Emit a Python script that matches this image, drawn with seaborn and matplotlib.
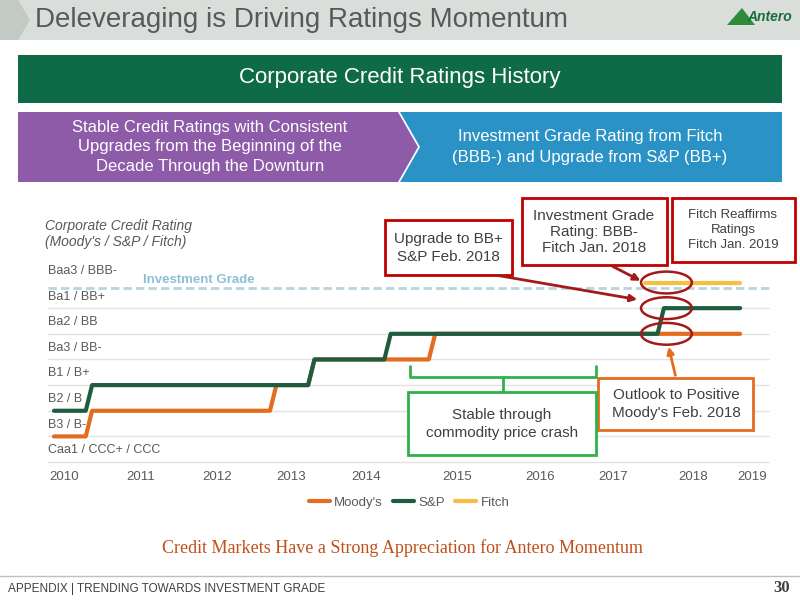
import numpy as np
import pandas as pd
import matplotlib
matplotlib.use("Agg")
import matplotlib.pyplot as plt
import seaborn as sns
from matplotlib.patches import Rectangle, Polygon, Ellipse, FancyArrowPatch

sns.set_theme(style="white")
plt.rcParams['font.family'] = ['Liberation Sans', 'DejaVu Sans']

# ---- data (monthly, Jan 2010 = month 0) ----
levels = ["Caa1 / CCC+ / CCC", "B3 / B-", "B2 / B", "B1 / B+", "Ba3 / BB-", "Ba2 / BB", "Ba1 / BB+", "Baa3 / BBB-"]
years = ["2010", "2011", "2012", "2013", "2014", "2015", "2016", "2017", "2018", "2019"]
year_pos = [1.6, 13.7, 25.7, 37.3, 49.1, 63.5, 76.5, 88.0, 100.6, 109.9]
# rating change points: (first month, rating level)
moodys_steps = [(0, 1), (6, 2), (35, 3), (41, 4), (60, 5)]
sp_steps = [(0, 2), (6, 3), (41, 4), (53, 5), (96, 6)]
fitch_steps = [(93, 7)]
last_month = 108

def expand(steps):
    m, v = [], []
    for i, (s, lv) in enumerate(steps):
        e = steps[i + 1][0] if i + 1 < len(steps) else last_month + 1
        m += list(range(s, e)); v += [lv] * (e - s)
    return m, v

rows = []
for name, st in [("Moody's", moodys_steps), ("S&P", sp_steps), ("Fitch", fitch_steps)]:
    m, v = expand(st)
    rows += [dict(month=a, rating=b, agency=name) for a, b in zip(m, v)]
df = pd.DataFrame(rows)
colors = {"Moody's": "#e36c1e", "S&P": "#1d5c3e", "Fitch": "#f5c040"}

W, H = 800, 600
fig = plt.figure(figsize=(8, 6), dpi=100)

def fx(x): return x / W
def fy(y): return 1 - y / H

def box(x0, y0, x1, y1, ec, fc="white", lw=2, z=5):
    fig.patches.append(Rectangle((fx(x0), fy(y1)), fx(x1 - x0), (y1 - y0) / H,
                                 transform=fig.transFigure, ec=ec, fc=fc, lw=lw, zorder=z))

def poly(pts, fc, z=1):
    fig.patches.append(Polygon([(fx(a), fy(b)) for a, b in pts], closed=True,
                               transform=fig.transFigure, fc=fc, ec="none", zorder=z))

def txt(x, y, s, **kw):
    kw.setdefault("ha", "center"); kw.setdefault("va", "center")
    fig.text(fx(x), fy(y), s, **kw)

# header
box(0, 0, 800, 40, "none", "#d9dedb", 0, 0)
poly([(0, 0), (18, 0), (30, 20), (18, 40), (0, 40)], "#c3cac6")
txt(35, 20, "Deleveraging is Driving Ratings Momentum", ha="left", fontsize=20, color="#595959")
txt(770, 17, "Antero", fontsize=10, color="#1a6b3a", style="italic", weight="bold")
poly([(727, 25), (742, 8), (755, 25)], "#2f8a3a", z=2)

# green banner
box(18, 55, 782, 103, "none", "#0f6a48", 0, 1)
txt(400, 77, "Corporate Credit Ratings History", fontsize=16, color="white")
# purple chevron and blue panel
poly([(400, 112), (782, 112), (782, 182), (400, 182), (420, 147)], "#2b92c6")
poly([(18, 112), (398, 112), (418, 147), (398, 182), (18, 182)], "#8d5ba8", z=2)
txt(210, 147, "Stable Credit Ratings with Consistent\nUpgrades from the Beginning of the\nDecade Through the Downturn",
    fontsize=12, color="white", linespacing=1.4, zorder=3)
txt(590, 147, "Investment Grade Rating from Fitch\n(BBB-) and Upgrade from S&P (BB+)",
    fontsize=12, color="white", linespacing=1.5)

# chart axes
ax = fig.add_axes([48 / W, 1 - 470 / H, 722 / W, 208 / H])
for lv in range(7):
    ax.axhline(lv, color="#e3e3e3", lw=1, zorder=0)
ax.axhline(6.8, color="#b9d3df", lw=2, ls=(0, (3, 1.5)), zorder=0)
sns.lineplot(data=df, x="month", y="rating", hue="agency", palette=colors, lw=3,
             ax=ax, legend=False, zorder=3)
ax.set_xlim(-0.94, 112.7)
ax.set_ylim(-0.31, 7.8)
ax.set_yticks([])
ax.set_xticks(year_pos)
ax.set_xticklabels(years, fontsize=9.5, color="#595959")
ax.tick_params(axis="x", length=0, pad=1)
ax.set_xlabel(""); ax.set_ylabel("")
for s in ax.spines.values():
    s.set_visible(False)
for lv, lab in enumerate(levels):
    ax.text(-0.9, lv + 0.22, lab, fontsize=9, color="#595959", va="bottom", ha="left")
ax.text(14, 7.08, "Investment Grade", fontsize=9.5, color="#8fbfd6", weight="bold", va="center")
for lv in (5, 6, 7):
    ax.add_patch(Ellipse((96.4, lv), 8, 0.85, fill=False, ec="#a31a1a", lw=1.8, zorder=6))
ax.legend(handles=[plt.Line2D([], [], color=colors[k], lw=3) for k in colors], labels=list(colors),
          loc="upper center", bbox_to_anchor=(0.5, -0.07), ncol=3, frameon=False, fontsize=9.5,
          handlelength=1.6, handletextpad=0.3, columnspacing=0.8, labelcolor="#595959")

txt(45, 226, "Corporate Credit Rating", ha="left", fontsize=10, color="#595959", style="italic")
txt(45, 242, "(Moody's / S&P / Fitch)", ha="left", fontsize=10, color="#595959", style="italic")

# callout boxes
red = "#c00000"
box(385, 220, 512, 275, red)
txt(448, 248, "Upgrade to BB+\nS&P Feb. 2018", fontsize=11, color="#404040", zorder=6, linespacing=1.35)
box(522, 198, 667, 265, red)
txt(594, 232, "Investment Grade\nRating: BBB-\nFitch Jan. 2018", fontsize=11, color="#404040", zorder=6, linespacing=1.2)
box(672, 198, 795, 262, red)
txt(733, 230, "Fitch Reaffirms\nRatings\nFitch Jan. 2019", fontsize=9.5, color="#404040", zorder=6, linespacing=1.35)

def arrow(p0, p1, c):
    fig.patches.append(FancyArrowPatch((fx(p0[0]), fy(p0[1])), (fx(p1[0]), fy(p1[1])),
                                       transform=fig.transFigure, arrowstyle="-|>", mutation_scale=10,
                                       color=c, lw=2, zorder=7))
arrow((610, 265), (643, 282), "#a31a1a")
arrow((495, 275), (640, 300), "#a31a1a")

orange = "#e36c1e"
box(598, 378, 753, 430, orange)
txt(676, 404, "Outlook to Positive\nMoody's Feb. 2018", fontsize=11, color="#404040", zorder=6, linespacing=1.35)
arrow((676, 378), (668, 344), orange)

green = "#2db34a"
gx = [fx(410), fx(410), fx(596), fx(596)]
gy = [fy(366), fy(377), fy(377), fy(366)]
fig.lines.append(plt.Line2D(gx, gy, transform=fig.transFigure, color=green, lw=2))
fig.lines.append(plt.Line2D([fx(503), fx(503)], [fy(377), fy(392)], transform=fig.transFigure, color=green, lw=2))
box(408, 392, 596, 455, green)
txt(502, 424, "Stable through\ncommodity price crash", fontsize=11, color="#404040", zorder=6, linespacing=1.35)

# footer
txt(403, 548, "Credit Markets Have a Strong Appreciation for Antero Momentum", fontsize=13,
    color="#c0501a", family=['Liberation Serif', 'DejaVu Serif'])
fig.lines.append(plt.Line2D([0, 1], [fy(576), fy(576)], transform=fig.transFigure, color="#bfbfbf", lw=1))
txt(8, 589, "APPENDIX | TRENDING TOWARDS INVESTMENT GRADE", ha="left", fontsize=8.5, color="#404040")
txt(790, 588, "30", ha="right", fontsize=12, weight="bold", color="#404040",
    family=['Liberation Serif', 'DejaVu Serif'])

fig.savefig("out.png", dpi=100)
